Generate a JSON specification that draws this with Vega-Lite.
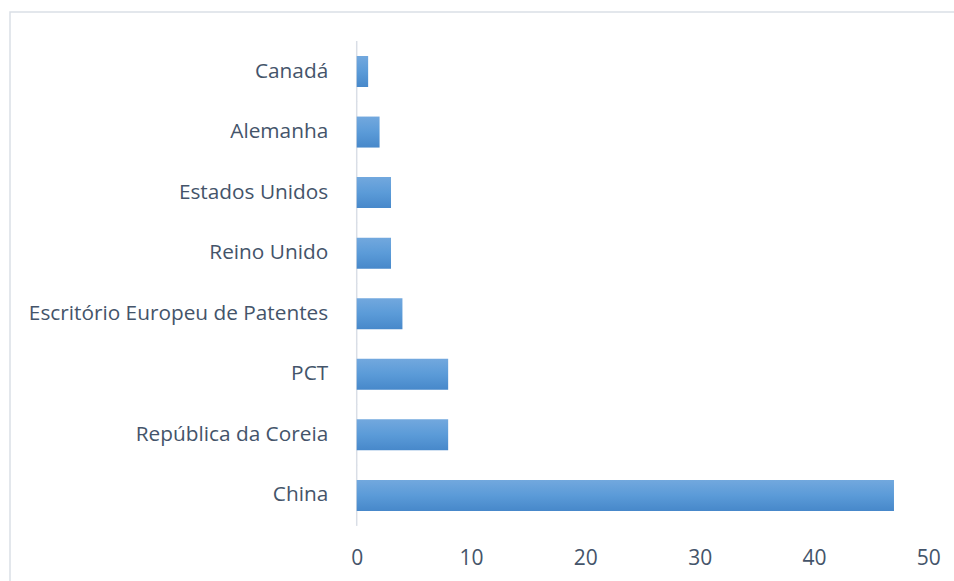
{
  "$schema": "https://vega.github.io/schema/vega-lite/v6.json",
  "autosize": {"type": "none"},
  "padding": {"left": 10, "top": 12, "right": 0, "bottom": 0},
  "width": 960,
  "height": 576,
  "background": "white",
  "config": {
    "view": {"stroke": "#DADFE6", "strokeWidth": 1.5},
    "font": "Open Sans"
  },
  "data": {
    "values": [
      {"pais": "Canadá", "valor": 1},
      {"pais": "Alemanha", "valor": 2},
      {"pais": "Estados Unidos", "valor": 3},
      {"pais": "Reino Unido", "valor": 3},
      {"pais": "Escritório Europeu de Patentes", "valor": 4},
      {"pais": "PCT", "valor": 8},
      {"pais": "República da Coreia", "valor": 8},
      {"pais": "China", "valor": 47}
    ]
  },
  "encoding": {
    "y": {
      "field": "pais",
      "type": "nominal",
      "sort": null,
      "title": null,
      "scale": {"paddingInner": 0.488, "paddingOuter": 1, "align": 0.3633, "round": false},
      "axis": {
        "offset": -346.7,
        "domain": false,
        "ticks": false,
        "tickSize": 0,
        "labelPadding": 29,
        "labelFont": "Open Sans",
        "labelFontSize": 20.8,
        "labelColor": "#44546A",
        "labelLimit": 400,
        "grid": false
      }
    }
  },
  "layer": [
    {
      "mark": {"type": "tick", "color": "#D9DEE6", "thickness": 1.5, "size": 61, "opacity": 1},
      "encoding": {
        "x": {"datum": 0, "type": "quantitative"}
      }
    },
    {
      "mark": {
        "type": "bar",
        "color": {
          "gradient": "linear",
          "x1": 0, "y1": 0, "x2": 0, "y2": 1,
          "stops": [
            {"offset": 0, "color": "#72A8DE"},
            {"offset": 0.5, "color": "#5B9BD8"},
            {"offset": 1, "color": "#4788CA"}
          ]
        }
      },
      "encoding": {
        "x": {
          "field": "valor",
          "type": "quantitative",
          "title": null,
          "scale": {"domain": [-30.33, 53.65], "nice": false, "zero": false},
          "axis": {
            "values": [0, 10, 20, 30, 40, 50],
            "offset": -24,
            "domain": false,
            "ticks": false,
            "tickSize": 0,
            "grid": false,
            "labelPadding": 0,
            "labelBaseline": "alphabetic",
            "labelFont": "Open Sans",
            "labelFontSize": 21,
            "labelColor": "#44546A"
          }
        },
        "x2": {"datum": 0}
      }
    }
  ]
}
